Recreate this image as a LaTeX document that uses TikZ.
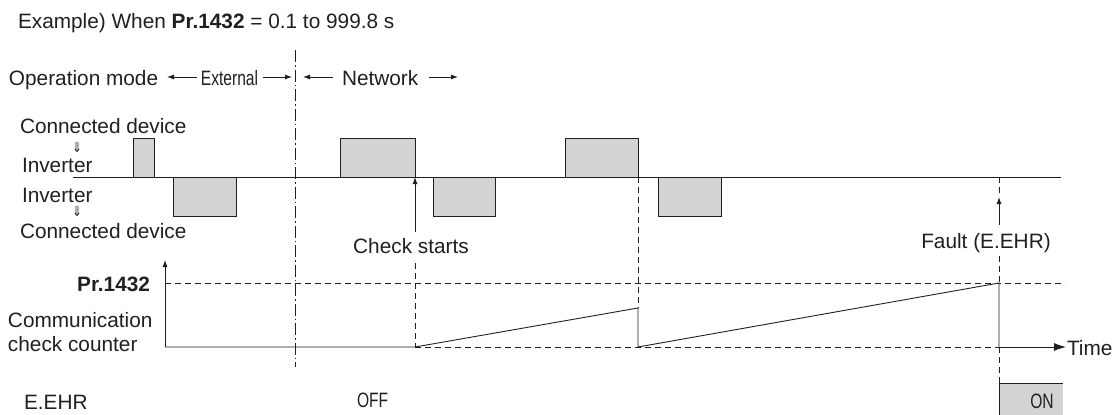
\documentclass[tikz,border=0pt]{standalone}
\usepackage{fontspec}
\setmainfont{Liberation Sans}
\newfontfamily\narrowfont[FakeStretch=0.75]{Liberation Sans}
\newfontfamily\arrowfont[FakeStretch=0.85]{DejaVu Sans}
\usetikzlibrary{arrows.meta}
\definecolor{ink}{HTML}{231F20}
\definecolor{pulsegray}{HTML}{D1D3D4}
\begin{document}
\begin{tikzpicture}[x=1pt,y=-1pt,line width=0.9pt,color=ink,
  txt/.style={inner sep=0pt,outer sep=0pt,text=ink,font=\fontsize{20.8}{24}\selectfont},
  nar/.style={inner sep=0pt,outer sep=0pt,text=ink,font=\narrowfont\fontsize{20.8}{24}\selectfont},
  dbl/.style={inner sep=0pt,outer sep=0pt,text=ink,font=\arrowfont\fontsize{14}{14}\selectfont},
  pulse/.style={draw=ink,fill=pulsegray,line width=0.9pt},
  dsh/.style={dash pattern=on 6pt off 4pt,line width=0.8pt},
  dashdot/.style={dash pattern=on 12pt off 3pt on 1.5pt off 3pt,line width=0.8pt},
  tip/.style={-{Latex[length=7pt,width=5pt]}},
  bigtip/.style={-{Latex[length=12pt,width=8pt]}}]
\useasboundingbox (0,0) rectangle (1112,415);
\fill[white] (0,0) rectangle (1112,415);

% title
\node[txt,anchor=base west] (title) at (18,28) {Example) When \textbf{Pr.1432} = 0.1 to 999.8 s};

% operation mode row
\node[txt,anchor=base west] (opmode) at (9,85) {Operation mode};
\node[nar,anchor=base] (ext) at (229.5,85) {External};
\node[txt,anchor=base west] (net) at (342,85) {Network};
\coordinate (eLa) at (197,77); \coordinate (eLb) at (167,77);
\coordinate (eRa) at (263,77); \coordinate (eRb) at (292,77);
\coordinate (nLa) at (333,77); \coordinate (nLb) at (303,77);
\coordinate (nRa) at (429,77); \coordinate (nRb) at (458,77);
\draw[tip] (eLa) -- (eLb);
\draw[tip] (eRa) -- (eRb);
\draw[tip] (nLa) -- (nLb);
\draw[tip] (nRa) -- (nRb);

% mode boundary
\coordinate (mTop) at (295,50); \coordinate (mBot) at (295,367);
\draw[dashdot] (mTop) -- (mBot);

% communication labels
\node[txt,anchor=base west] (cd1) at (20,133) {Connected device};
\node[dbl,anchor=base] (d1) at (77,152) {⇓};
\node[txt,anchor=base west] (inv1) at (22,172) {Inverter};
\node[txt,anchor=base west] (inv2) at (22,202) {Inverter};
\node[dbl,anchor=base] (d2) at (77,216) {⇓};
\node[txt,anchor=base west] (cd2) at (20,238) {Connected device};

% pulses
\draw[pulse] (133,177) rectangle (154,138);
\draw[pulse] (173,177) rectangle (236,216);
\draw[pulse] (340,177) rectangle (415,138);
\draw[pulse] (433,177) rectangle (495,216);
\draw[pulse] (565,177) rectangle (638,138);
\draw[pulse] (658,177) rectangle (721,216);
\coordinate (bL) at (73,177); \coordinate (bR) at (1061,177);
\draw (bL) -- (bR);

% check starts
\node[txt,anchor=base] (check) at (411,253) {Check starts};
\coordinate (chkA) at (415,232); \coordinate (chkB) at (415,177);
\draw[tip] (chkA) -- (chkB);

% fault
\node[txt,anchor=base] (fault) at (986,248) {Fault (E.EHR)};
\coordinate (fA) at (999,225); \coordinate (fB) at (999,197);
\draw[tip] (fA) -- (fB);
\coordinate (fTop) at (999,177); \coordinate (fT2) at (999,256);
\coordinate (fPr) at (999,283); \coordinate (fZero) at (999,347);
\coordinate (fOn) at (999,383);
\draw[dsh] (fTop) -- (fB);
\draw[dsh] (fT2) -- (fPr);
\draw[dsh] (fZero) -- (fOn);

% other dashed verticals
\coordinate (c1Top) at (415,263); \coordinate (c1Bot) at (415,347);
\draw[dsh] (c1Top) -- (c1Bot);
\coordinate (c2Top) at (638,177); \coordinate (c2Mid) at (638,308);
\draw[dsh] (c2Top) -- (c2Mid);

% counter
\node[txt,anchor=base east,font=\bfseries\fontsize{20.8}{24}\selectfont] (pr) at (150,291) {Pr.1432};
\node[txt,anchor=base west] (comm) at (8,327) {Communication};
\node[txt,anchor=base west] (cc) at (8,351) {check counter};
\coordinate (axO) at (165,347); \coordinate (axTop) at (165,260);
\coordinate (prL) at (165,283); \coordinate (prR) at (1065,283);
\draw[dsh] (prL) -- (prR);
\draw[tip] (axO) -- (axTop);
\coordinate (r1) at (415,347); \coordinate (r2) at (638,347);
\draw (axO) -- (r1) -- (c2Mid) -- (r2) -- (fPr) -- (fZero);
\draw[dsh] (r1) -- (fZero);
\coordinate (tEnd) at (1066,347);
\draw[bigtip] (fZero) -- (tEnd);
\node[txt,anchor=base west] (time) at (1067,355) {Time};

% E.EHR signal
\node[txt,anchor=base west] (eehr) at (24,409) {E.EHR};
\node[nar,anchor=base west] (off) at (357,407) {OFF};
\fill[pulsegray] (999,383) rectangle (1063,416);
\coordinate (onTR) at (1063,383); \coordinate (onBL) at (999,416);
\draw (onBL) -- (fOn) -- (onTR);
\node[nar,anchor=base] (on) at (1042,408) {ON};
\end{tikzpicture}
\end{document}
